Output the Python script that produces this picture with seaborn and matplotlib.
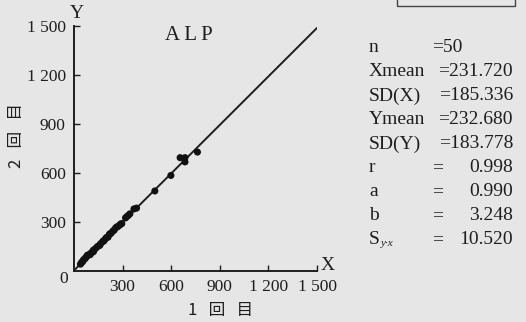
import matplotlib
matplotlib.use("Agg")
import matplotlib.pyplot as plt
from matplotlib.patches import Rectangle
import numpy as np
import pandas as pd
import seaborn as sns

# ALP measured twice on the same 50 samples (1st run vs 2nd run)
x_first = [655, 685, 685, 762, 598, 499,
           386, 370, 345, 335, 325, 318, 295, 288, 281, 270,
           265, 257, 248, 240, 230, 222, 218, 210, 200, 192,
           184, 178, 165, 154, 145, 135, 125, 119, 113, 105,
           98, 90, 83, 78, 73, 68, 59, 55, 50, 45,
           40, 120, 160, 100]
y_second = [694, 694, 668, 728, 585, 490,
            385, 380, 350, 340, 332, 325, 290, 288, 280, 272,
            270, 264, 250, 245, 232, 228, 223, 207, 205, 195,
            183, 182, 168, 155, 150, 140, 130, 127, 117, 110,
            102, 98, 97, 88, 83, 75, 69, 60, 55, 50,
            42, 118, 158, 100]

# regression summary
slope_a = 0.990
intercept_b = 3.248
stat_labels = ["n", "Xmean", "SD(X)", "Ymean", "SD(Y)", "r", "a", "b"]
stat_values = ["50", "231.720", "185.336", "232.680", "183.778", "0.998", "0.990", "3.248"]
syx_value = "10.520"

tick_values = [300, 600, 900, 1200, 1500]
tick_labels = ["300", "600", "900", "1 200", "1 500"]

sns.set_style("ticks")
serif = ["Liberation Serif", "DejaVu Serif"]
cjk = ["Noto Sans CJK JP", "DejaVu Sans"]
plt.rcParams["font.family"] = serif

W, H = 526, 322
bg = "#e6e6e6"
ink = "#1e1e1e"
fig = plt.figure(figsize=(W / 100, H / 100), dpi=100, facecolor=bg)


def fx(px):
    return px / W


def fy(py):
    return 1 - py / H


ax = fig.add_axes([fx(74), fy(271), fx(317) - fx(74), fy(26) - fy(271)])
ax.set_facecolor(bg)

df = pd.DataFrame({"x": x_first, "y": y_second})
line_x = np.array([0, 1500])
line_df = pd.DataFrame({"x": line_x, "y": slope_a * line_x + intercept_b})

sns.lineplot(data=line_df, x="x", y="y", ax=ax, color=ink, linewidth=1.4)
sns.scatterplot(data=df, x="x", y="y", ax=ax, color="#111111", s=26,
                edgecolor="none", clip_on=False, zorder=3)

ax.set_xlim(0, 1500)
ax.set_ylim(0, 1500)
ax.set_xlabel("")
ax.set_ylabel("")
for side in ["top", "right"]:
    ax.spines[side].set_visible(False)
for side in ["left", "bottom"]:
    ax.spines[side].set_color(ink)
    ax.spines[side].set_linewidth(1.4)

ax.set_xticks(tick_values)
ax.set_xticklabels(tick_labels)
ax.set_yticks(tick_values)
ax.set_yticklabels(tick_labels)
ax.tick_params(direction="in", length=4, width=1.0, color=ink,
               labelsize=12.5, labelcolor=ink, pad=6)

# origin label and axis letters
fig.text(fx(64), fy(279), "0", fontsize=12.5, color=ink, ha="center", va="center")
fig.text(fx(328), fy(266), "X", fontsize=14, color=ink, ha="center", va="center")
fig.text(fx(77), fy(13), "Y", fontsize=14, color=ink, ha="center", va="center")
fig.text(fx(189), fy(36), "A\u2009L\u2009P", fontsize=15, color=ink,
         ha="center", va="center")

# axis titles
fig.text(fx(221), fy(311), "1   回   目", fontsize=12, color=ink, family=cjk,
         ha="center", va="center")
fig.text(fx(17), fy(136), "2   回   目", fontsize=12, color=ink, family=cjk,
         ha="center", va="center", rotation=90)

# statistics block
fs = 14
row_y = [48, 72, 96, 120, 144, 168, 192, 216]
for lab, val, yy in zip(stat_labels, stat_values, row_y):
    fig.text(fx(369), fy(yy), lab, fontsize=fs, color=ink, ha="left", va="center")
    if lab == "n":
        fig.text(fx(432), fy(yy), "=" + val, fontsize=fs, color=ink,
                 ha="left", va="center")
    elif lab in ("Xmean", "SD(X)", "Ymean", "SD(Y)"):
        fig.text(fx(513), fy(yy), "=" + val, fontsize=fs, color=ink,
                 ha="right", va="center")
    else:
        fig.text(fx(432), fy(yy), "=", fontsize=fs, color=ink, ha="left", va="center")
        fig.text(fx(513), fy(yy), val, fontsize=fs, color=ink, ha="right", va="center")
fig.text(fx(369), fy(240), "S", fontsize=fs, color=ink, ha="left", va="center")
fig.text(fx(381), fy(244), "y·x", fontsize=8, color=ink, style="italic",
         ha="left", va="center")
fig.text(fx(432), fy(240), "=", fontsize=fs, color=ink, ha="left", va="center")
fig.text(fx(513), fy(240), syx_value, fontsize=fs, color=ink, ha="right", va="center")

# frame edge at the top right
fig.patches.append(Rectangle((fx(397), fy(6)), fx(515) - fx(397), fy(-10) - fy(6),
                             transform=fig.transFigure, fill=False,
                             edgecolor="#444444", linewidth=1.0))

fig.savefig("out.png", dpi=100, facecolor=bg)
